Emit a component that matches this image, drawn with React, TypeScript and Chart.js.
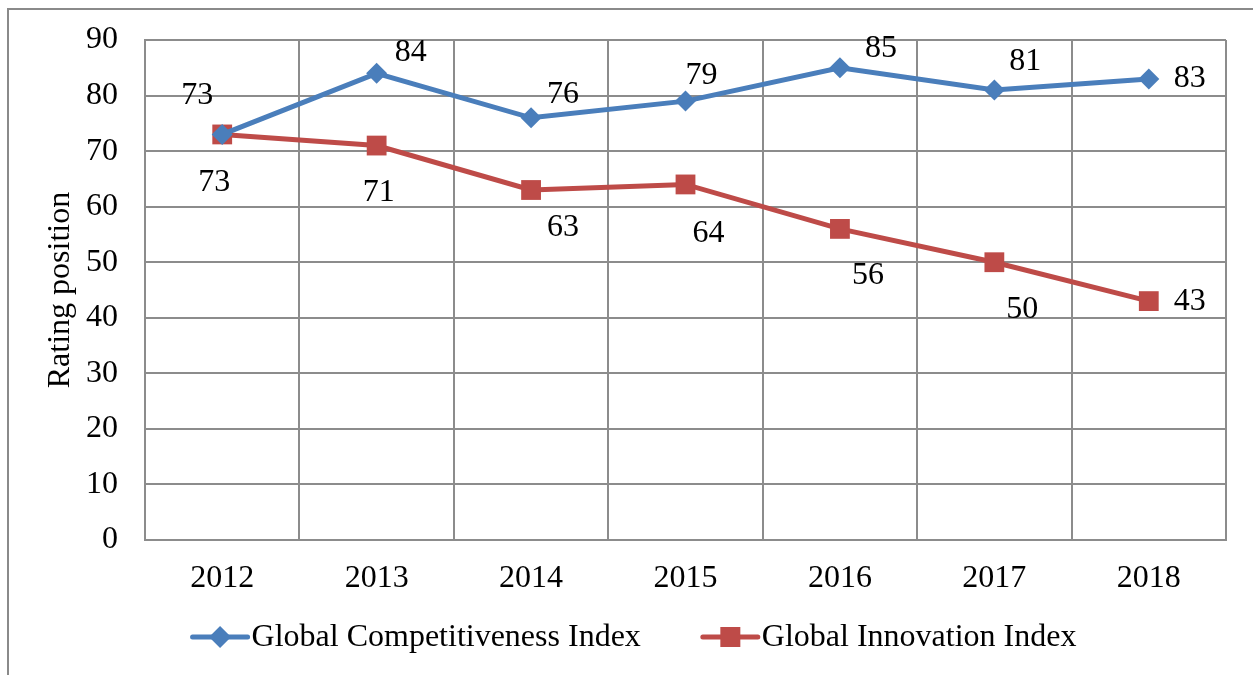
import React, { useEffect, useRef } from "react";
import { Chart, registerables } from "chart.js";

Chart.register(...registerables);

const years = ["2012", "2013", "2014", "2015", "2016", "2017", "2018"];
const gciValues = [73, 84, 76, 79, 85, 81, 83];
const giiValues = [73, 71, 63, 64, 56, 50, 43];
const yTicks = [0, 10, 20, 30, 40, 50, 60, 70, 80, 90];
const seriesNames = ["Global Competitiveness Index", "Global Innovation Index"];

// label offsets relative to each point (styling only)
const gciLabelOffsets: [number, number][] = [
  [-25, -39], [34, -21], [32, -23], [16, -26], [41, -19], [31, -28], [41, 0],
];
const giiLabelOffsets: [number, number][] = [
  [-8, 48], [2, 47], [32, 38], [23, 49], [28, 47], [28, 47], [41, 0],
];

const FONT = "'Liberation Serif', 'Times New Roman', serif";
const FS = 32;
const BLUE = "#4a7ebb";
const RED = "#be4b48";
const GRID = "#8c8c8c";

export default function App() {
  const ref = useRef<HTMLCanvasElement | null>(null);

  useEffect(() => {
    if (!ref.current) return;
    const offsets = [gciLabelOffsets, giiLabelOffsets];

    const framePlugin = {
      id: "frame",
      beforeDraw(chart: any) {
        const ctx = chart.ctx;
        ctx.save();
        ctx.fillStyle = "#ffffff";
        ctx.fillRect(0, 0, chart.width, chart.height);
        ctx.strokeStyle = "#8a8a8a";
        ctx.lineWidth = 2;
        ctx.strokeRect(8, 9, chart.width + 50, chart.height + 50);
        ctx.restore();
      },
    };

    const labelsPlugin = {
      id: "valueLabels",
      afterDatasetsDraw(chart: any) {
        const ctx = chart.ctx;
        ctx.save();
        ctx.font = `${FS}px ${FONT}`;
        ctx.fillStyle = "#000";
        ctx.textAlign = "center";
        ctx.textBaseline = "middle";
        chart.data.datasets.forEach((ds: any, di: number) => {
          const meta = chart.getDatasetMeta(di);
          meta.data.forEach((pt: any, i: number) => {
            const [dx, dy] = offsets[di][i];
            ctx.fillText(String(ds.data[i]), pt.x + dx, pt.y + dy);
          });
        });
        ctx.restore();
      },
    };

    const legendPlugin = {
      id: "customLegend",
      afterDraw(chart: any) {
        const ctx = chart.ctx;
        ctx.save();
        ctx.font = `${FS}px ${FONT}`;
        ctx.textBaseline = "middle";
        ctx.textAlign = "left";
        const symW = 55;
        const symGap = 4;
        const itemGap = 62;
        const widths = chart.data.datasets.map((ds: any) => ctx.measureText(ds.label).width);
        const total =
          widths.reduce((a: number, b: number) => a + b, 0) +
          chart.data.datasets.length * (symW + symGap) +
          itemGap * (chart.data.datasets.length - 1);
        let x = chart.width / 2 + 8 - total / 2;
        const y = 637;
        chart.data.datasets.forEach((ds: any, i: number) => {
          ctx.strokeStyle = ds.borderColor;
          ctx.lineWidth = 5;
          ctx.lineCap = "round";
          ctx.beginPath();
          ctx.moveTo(x, y);
          ctx.lineTo(x + symW, y);
          ctx.stroke();
          ctx.fillStyle = ds.borderColor;
          const cx = x + symW / 2;
          ctx.beginPath();
          if (ds.pointStyle === "rectRot") {
            ctx.moveTo(cx, y - 11);
            ctx.lineTo(cx + 11, y);
            ctx.lineTo(cx, y + 11);
            ctx.lineTo(cx - 11, y);
            ctx.closePath();
          } else {
            ctx.rect(cx - 10, y - 10, 20, 20);
          }
          ctx.fill();
          ctx.fillStyle = "#000";
          ctx.fillText(ds.label, x + symW + symGap, y + 1);
          x += symW + symGap + widths[i] + itemGap;
        });
        ctx.restore();
      },
    };

    const chart = new Chart(ref.current, {
      type: "line",
      data: {
        labels: years,
        datasets: [
          {
            label: seriesNames[0],
            data: gciValues,
            borderColor: BLUE,
            backgroundColor: BLUE,
            borderWidth: 5,
            pointStyle: "rectRot",
            pointRadius: 10.5,
            pointBorderWidth: 0,
            pointBackgroundColor: BLUE,
            tension: 0,
          },
          {
            label: seriesNames[1],
            data: giiValues,
            borderColor: RED,
            backgroundColor: RED,
            borderWidth: 5,
            pointStyle: "rect",
            pointRadius: 14,
            pointBorderWidth: 0,
            pointBackgroundColor: RED,
            tension: 0,
          },
        ],
      },
      options: {
        animation: false,
        responsive: true,
        maintainAspectRatio: false,
        layout: { padding: { top: 40, right: 27, left: 0, bottom: 0 } },
        plugins: {
          legend: { display: false },
          tooltip: { enabled: false },
        },
        scales: {
          x: {
            type: "category",
            offset: true,
            grid: { offset: true, color: GRID, lineWidth: 2, drawTicks: false },
            border: { color: GRID, width: 2 },
            ticks: { color: "#000", font: { family: FONT, size: FS }, padding: 19 },
            afterFit(scale: any) {
              scale.height = 135;
              scale.paddingLeft = 0;
              scale.paddingRight = 0;
            },
          },
          y: {
            min: 0,
            max: 90,
            afterBuildTicks(scale: any) {
              scale.ticks = yTicks.map((v) => ({ value: v }));
            },
            grid: { color: GRID, lineWidth: 2, drawTicks: false },
            border: { color: GRID, width: 2 },
            ticks: { color: "#000", font: { family: FONT, size: FS }, padding: 27 },
            title: {
              display: true,
              text: "Rating position",
              color: "#000",
              font: { family: FONT, size: FS },
              padding: { top: 41, bottom: 0 },
            },
            afterFit(scale: any) {
              scale.width = 145;
              scale.paddingTop = 0;
              scale.paddingBottom = 0;
            },
          },
        },
      },
      plugins: [framePlugin, labelsPlugin, legendPlugin],
    } as any);

    return () => chart.destroy();
  }, []);

  return (
    <div style={{ position: "fixed", left: 0, top: 0, width: 1253, height: 675 }}>
      <canvas ref={ref} />
    </div>
  );
}
